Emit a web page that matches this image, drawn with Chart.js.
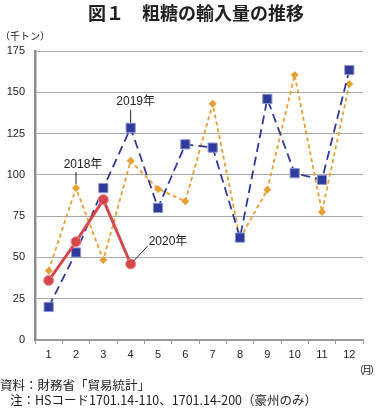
<!DOCTYPE html>
<html lang="ja">
<head>
<meta charset="utf-8">
<script src="https://cdn.jsdelivr.net/npm/chart.js@4/dist/chart.umd.min.js"></script>
<style>
  body { margin: 0; background: #fff; }
  #wrap { position: relative; width: 378px; height: 408px; font-family: "Noto Sans CJK JP", "Liberation Sans", sans-serif; color: #222; }
  #wrap canvas { position: absolute; left: 0; top: 0; }
  .txt { position: absolute; white-space: nowrap; }
  #title { left: 0; width: 392px; top: 1px; text-align: center; font-size: 18px; font-weight: bold; line-height: 23px; }
  #unitY { left: 0; top: 29px; font-size: 10px; line-height: 14px; }
  #unitX { left: 354px; top: 363px; font-size: 10px; line-height: 14px; letter-spacing: -2px; }
  #src { left: 0; top: 377px; font-size: 12.5px; line-height: 15px; }
  #note { left: 10px; top: 392px; font-size: 12.5px; line-height: 15px; }
</style>
</head>
<body>
<div id="wrap">
  <canvas id="sugarChart" width="378" height="408"></canvas>
  <div class="txt" id="title">図１　粗糖の輸入量の推移</div>
  <div class="txt" id="unitY">（千トン）</div>
  <div class="txt" id="unitX">（月）</div>
  <div class="txt" id="src">資料：財務省「貿易統計」</div>
  <div class="txt" id="note">注：HSコード1701.14-110、1701.14-200（豪州のみ）</div>
</div>
<script>
/* ------- データ（千トン） ------- */
const months = ['1', '2', '3', '4', '5', '6', '7', '8', '9', '10', '11', '12'];
const y2018 = [42, 92, 48.5, 108.5, 91.5, 84, 143, 61.5, 91, 160.5, 77.5, 155];
const y2019 = [20, 53, 92, 128.5, 80, 118.5, 116.5, 62, 146, 101, 97, 163.5];
const y2020 = [36, 59.5, 85, 46];
const yTicks = [0, 25, 50, 75, 100, 125, 150, 175];

const BLUE = '#2f3b9b';
const ORANGE = '#e6a036';
const RED = '#d6474b';

/* ------- 系列ラベル（引き出し線付き） ------- */
const seriesLabels = [
    { ds: 1, idx: 3, text: '2019年', line: [0, -5, 0, -18], tx: 5, ty: -26, align: 'center' },
    { ds: 2, idx: 1, text: '2018年', line: [0, -4, 0, -16], tx: 7, ty: -23, align: 'center' },
    { ds: 0, idx: 3, text: '2020年', line: [3, -3, 17, -18], tx: 18, ty: -22, align: 'left' },
];

const labelPlugin = {
    id: 'seriesLabels',
    afterDatasetsDraw(chart) {
        const { ctx } = chart;
        ctx.save();
        ctx.strokeStyle = '#222';
        ctx.lineWidth = 1;
        ctx.fillStyle = '#222';
        ctx.font = '12px "Liberation Sans", "Noto Sans CJK JP", sans-serif';
        ctx.textBaseline = 'middle';
        seriesLabels.forEach(l => {
            const pt = chart.getDatasetMeta(l.ds).data[l.idx];
            ctx.beginPath();
            ctx.moveTo(pt.x + l.line[0], pt.y + l.line[1]);
            ctx.lineTo(pt.x + l.line[2], pt.y + l.line[3]);
            ctx.stroke();
            ctx.textAlign = l.align;
            ctx.fillText(l.text, pt.x + l.tx, pt.y + l.ty);
        });
        ctx.restore();
    }
};

const tickFont = { family: '"Liberation Sans", Arial, sans-serif', size: 11 };

new Chart(document.getElementById('sugarChart'), {
    type: 'line',
    data: {
        labels: months,
        datasets: [
            {
                label: '2020年',
                data: y2020,
                borderColor: RED,
                backgroundColor: RED,
                borderWidth: 3,
                pointStyle: 'circle',
                pointRadius: 5,
                pointBorderWidth: 1,
                pointBorderColor: '#e88a8a',
                tension: 0,
            },
            {
                label: '2019年',
                data: y2019,
                borderColor: BLUE,
                backgroundColor: BLUE,
                borderWidth: 1.8,
                borderDash: [9, 5],
                pointStyle: 'rect',
                pointRadius: 6.5,
                pointBorderWidth: 1,
                pointBorderColor: '#8d95d2',
                tension: 0,
            },
            {
                label: '2018年',
                data: y2018,
                borderColor: ORANGE,
                backgroundColor: ORANGE,
                borderWidth: 1.8,
                borderDash: [4, 3],
                pointStyle: 'rectRot',
                pointRadius: 4,
                pointBorderWidth: 0,
                tension: 0,
            }
        ]
    },
    options: {
        responsive: false,
        animation: false,
        layout: { padding: { top: 51, right: 15, left: 0, bottom: 0 } },
        plugins: {
            legend: { display: false },
            tooltip: { enabled: false }
        },
        scales: {
            x: {
                offset: true,
                afterFit: s => { s.height = 68; },
                grid: { offset: true, drawOnChartArea: false, drawTicks: true, tickLength: 4, color: '#999' },
                border: { color: '#9a9a9a', width: 2 },
                ticks: { color: '#222', font: tickFont, padding: 4, maxRotation: 0 }
            },
            y: {
                min: 0,
                max: 175,
                afterFit: s => { s.width = 35; },
                afterBuildTicks: s => { s.ticks = yTicks.map(v => ({ value: v })); },
                grid: { color: '#a8a8a8', lineWidth: 1, drawTicks: false },
                border: { color: '#8e8e8e', width: 2.5 },
                ticks: { color: '#222', font: tickFont, padding: 10 }
            }
        }
    },
    plugins: [labelPlugin]
});
</script>
</body>
</html>
